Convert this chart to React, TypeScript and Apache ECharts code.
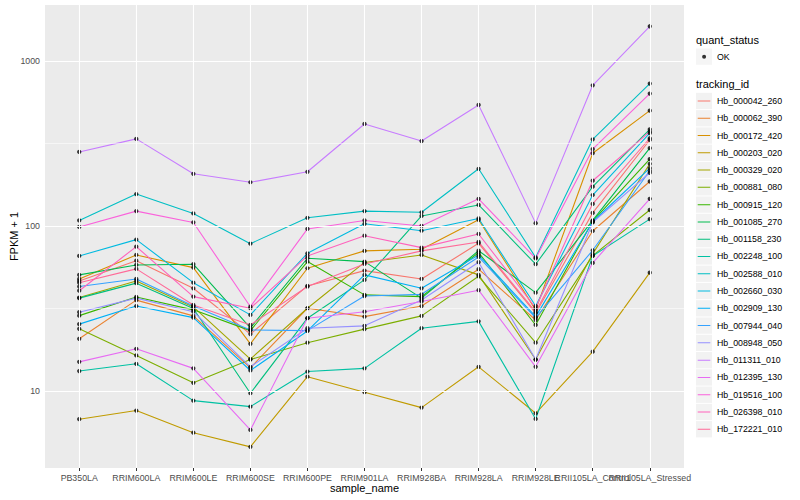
import React, { useEffect, useRef } from 'react';
import * as echarts from 'echarts';

const samples = [
  'PB350LA', 'RRIM600LA', 'RRIM600LE', 'RRIM600SE', 'RRIM600PE', 'RRIM901LA',
  'RRIM928BA', 'RRIM928LA', 'RRIM928LE', 'RRII105LA_Control', 'RRII105LA_Stressed',
];

const trackingIds = [
  'Hb_000042_260', 'Hb_000062_390', 'Hb_000172_420', 'Hb_000203_020', 'Hb_000329_020',
  'Hb_000881_080', 'Hb_000915_120', 'Hb_001085_270', 'Hb_001158_230', 'Hb_002248_100',
  'Hb_002588_010', 'Hb_002660_030', 'Hb_002909_130', 'Hb_007944_040', 'Hb_008948_050',
  'Hb_011311_010', 'Hb_012395_130', 'Hb_019516_100', 'Hb_026398_010', 'Hb_172221_010',
];

const hueColors = [
  '#F8766D', '#EA8331', '#D89000', '#C09B00', '#A3A500', '#7CAE00', '#39B600', '#00BB4E',
  '#00BF7D', '#00C1A3', '#00BFC4', '#00BAE0', '#00B0F6', '#35A2FF', '#9590FF', '#C77CFF',
  '#E76BF3', '#FA62DB', '#FF62BC', '#FF6A98',
];

// FPKM + 1 per sample, in the order of `samples`
const hb_000042_260 = [46.4, 61.6, 41.9, 22.1, 43.3, 53.6, 47.7, 78.5, 29.6, 120, 332];
const hb_000062_390 = [20.7, 35.5, 28.5, 13.8, 31.7, 28.2, 32.7, 54.7, 26.9, 93.2, 186];
const hb_000172_420 = [47.7, 66.7, 55.9, 19.3, 55.4, 70.6, 72.2, 109, 31.0, 276, 500];
const hb_000203_020 = [6.74, 7.6, 5.58, 4.58, 12.2, 9.82, 7.92, 14.0, 7.32, 17.3, 52.1];
const hb_000329_020 = [36.8, 46.4, 32.3, 15.6, 31.7, 60.1, 66.7, 50.5, 15.5, 67.7, 238];
const hb_000881_080 = [23.8, 16.4, 11.2, 15.5, 19.6, 23.7, 28.5, 49.5, 19.6, 66.1, 125];
const hb_000915_120 = [28.6, 37.1, 31.0, 23.2, 60.8, 38.2, 37.3, 68.9, 25.1, 107, 254];
const hb_001085_270 = [50.5, 58.0, 58.6, 24.1, 63.7, 60.8, 36.5, 70.8, 39.4, 108, 296];
const hb_001158_230 = [36.5, 45.0, 31.6, 9.68, 27.6, 47.1, 115, 134, 58.6, 173, 385];
const hb_002248_100 = [13.2, 14.6, 8.73, 8.03, 13.1, 13.7, 24.0, 26.4, 6.76, 65.8, 110];
const hb_002588_010 = [108, 156, 119, 78.1, 112, 123, 121, 222, 64.4, 335, 729];
const hb_002660_030 = [65.8, 82.6, 45.3, 28.9, 68.3, 103, 93.6, 111, 32.7, 154, 365];
const hb_002909_130 = [25.4, 32.7, 27.8, 13.3, 23.1, 50.5, 41.9, 66.7, 28.2, 106, 224];
const hb_007944_040 = [42.9, 47.7, 32.7, 23.4, 23.2, 37.6, 38.5, 64.9, 27.7, 71.2, 216];
const hb_008948_050 = [30.0, 36.5, 30.2, 14.0, 24.0, 24.8, 35.6, 60.3, 15.5, 105, 210];
const hb_011311_010 = [281, 337, 207, 184, 213, 415, 327, 541, 104, 712, 1623];
const hb_012395_130 = [15.0, 18.0, 13.7, 5.8, 27.6, 30.2, 34.8, 40.8, 14.0, 59.7, 146];
const hb_019516_100 = [98.6, 123, 105, 32.4, 95.9, 108, 100, 146, 63.5, 292, 634];
const hb_026398_010 = [40.5, 74.9, 37.3, 31.7, 65.8, 87.3, 73.9, 89.4, 31.8, 188, 373];
const hb_172221_010 = [45.2, 54.9, 33.2, 25.1, 42.9, 58.8, 70.6, 80.0, 30.1, 136, 340];

const seriesValues = [
  hb_000042_260, hb_000062_390, hb_000172_420, hb_000203_020, hb_000329_020,
  hb_000881_080, hb_000915_120, hb_001085_270, hb_001158_230, hb_002248_100,
  hb_002588_010, hb_002660_030, hb_002909_130, hb_007944_040, hb_008948_050,
  hb_011311_010, hb_012395_130, hb_019516_100, hb_026398_010, hb_172221_010,
];

const yMajorTicks = [10, 100, 1000];
const yMinorTicks = [31.62, 316.2];
const yRange = [3.41, 2184];

const FONT = 'Liberation Sans, Arial, Helvetica, sans-serif';

export default function App() {
  const ref = useRef<HTMLDivElement>(null);

  useEffect(() => {
    if (!ref.current) return;
    const chart = echarts.init(ref.current, null, { renderer: 'svg' });
    const lg = (v: number) => Math.log10(v);
    const xIdx = samples.map((_, i) => i);

    const lineSeries = seriesValues.map((vals, k) => ({
      type: 'line',
      name: trackingIds[k],
      data: vals.map((v, i) => [i, lg(v)]),
      showSymbol: false,
      symbol: 'none',
      silent: true,
      z: 2,
      lineStyle: { color: hueColors[k], width: 1.1 },
      itemStyle: { color: hueColors[k] },
      emphasis: { disabled: true },
    }));

    const points: number[][] = [];
    seriesValues.forEach((vals) => vals.forEach((v, i) => points.push([i, lg(v)])));

    const gridLines = {
      type: 'line',
      name: '__grid',
      data: [],
      silent: true,
      z: 1,
      markLine: {
        silent: true,
        symbol: ['none', 'none'],
        label: { show: false },
        animation: false,
        data: [
          ...yMinorTicks.map((v) => ({ yAxis: lg(v), lineStyle: { color: '#ffffff', width: 0.55, type: 'solid' } })),
          ...yMajorTicks.map((v) => ({ yAxis: lg(v), lineStyle: { color: '#ffffff', width: 1.1, type: 'solid' } })),
          ...xIdx.map((i) => ({ xAxis: i, lineStyle: { color: '#ffffff', width: 1.1, type: 'solid' } })),
        ],
      },
    };

    const keyH = 16.3;
    const keyW = 16;
    const linePath = `path://M0,0L0.01,0M${keyW},${keyH}L${keyW - 0.01},${keyH}M1.7,${keyH / 2 - 0.5}L14.3,${keyH / 2 - 0.5}L14.3,${keyH / 2 + 0.5}L1.7,${keyH / 2 + 0.5}Z`;
    const dotPath = `path://M0,0L0.01,0M${keyW},${keyH}L${keyW - 0.01},${keyH}M6.1,${keyH / 2}A2,2 0 1 1 10.1,${keyH / 2}A2,2 0 1 1 6.1,${keyH / 2}Z`;

    const legendText = { fontSize: 8.8, color: '#000000', fontFamily: FONT };
    const baseLegend = {
      left: 696,
      orient: 'vertical',
      itemWidth: keyW,
      itemHeight: keyH,
      itemGap: 0.98,
      padding: 0,
      selectedMode: false,
      textStyle: legendText,
    };

    const xLabelStyle = {
      formatter: (v: number) => samples[Math.round(v)] ?? '',
      color: '#4D4D4D', fontSize: 8.8, margin: 5, hideOverlap: false,
      showMinLabel: true, showMaxLabel: true, fontFamily: FONT,
    };
    const evenIdx = xIdx.filter((i) => i % 2 === 0);
    const oddIdx = xIdx.filter((i) => i % 2 === 1);

    const option = {
      animation: false,
      textStyle: { fontFamily: FONT },
      title: [
        { text: 'quant_status', left: 696, top: 34, padding: 0, textStyle: { fontSize: 11, fontWeight: 'normal', color: '#000', fontFamily: FONT } },
        { text: 'tracking_id', left: 696, top: 78, padding: 0, textStyle: { fontSize: 11, fontWeight: 'normal', color: '#000', fontFamily: FONT } },
      ],
      legend: [
        { ...baseLegend, top: 48.5, z: 3, formatter: () => '', data: [{ name: 'OK', icon: 'rect', itemStyle: { color: '#F2F2F2' } }] },
        { ...baseLegend, top: 48.5, z: 4, data: [{ name: 'OK', icon: dotPath, itemStyle: { color: '#000000' } }] },
        { ...baseLegend, top: 92.8, z: 3, formatter: () => '', data: trackingIds.map((n) => ({ name: n, icon: 'rect', itemStyle: { color: '#F2F2F2' } })) },
        { ...baseLegend, top: 92.8, z: 4, data: trackingIds.map((n, k) => ({ name: n, icon: linePath, itemStyle: { color: hueColors[k] } })) },
      ],
      grid: {
        left: 45, right: 116, top: 5, bottom: 32,
        show: true, backgroundColor: '#EBEBEB', borderWidth: 0,
        containLabel: false, outerBoundsMode: 'none',
      },
      xAxis: [
        {
          type: 'value',
          position: 'bottom',
          min: -0.6,
          max: 10.6,
          axisLine: { show: false },
          splitLine: { show: false },
          axisTick: { show: true, customValues: xIdx, length: 3, lineStyle: { color: '#333333', width: 1 } },
          axisLabel: { ...xLabelStyle, customValues: evenIdx },
          name: 'sample_name',
          nameLocation: 'middle',
          nameGap: 14,
          nameMoveOverlap: false,
          nameTextStyle: { fontSize: 11, color: '#000', fontFamily: FONT },
        },
        {
          type: 'value',
          position: 'bottom',
          offset: 0,
          min: -0.6,
          max: 10.6,
          axisLine: { show: false },
          splitLine: { show: false },
          axisTick: { show: false },
          axisLabel: { ...xLabelStyle, customValues: oddIdx },
        },
      ],
      yAxis: {
        type: 'value',
        min: lg(yRange[0]),
        max: lg(yRange[1]),
        axisLine: { show: false },
        splitLine: { show: false },
        axisTick: { show: true, customValues: yMajorTicks.map(lg), length: 3, lineStyle: { color: '#333333', width: 1 } },
        axisLabel: {
          customValues: yMajorTicks.map(lg),
          formatter: (v: number) => String(Math.round(Math.pow(10, v))),
          color: '#4D4D4D', fontSize: 8.8, margin: 5, fontFamily: FONT,
          showMinLabel: true, showMaxLabel: true,
        },
        name: 'FPKM + 1',
        nameLocation: 'middle',
        nameGap: 26,
        nameRotate: 90,
        nameMoveOverlap: false,
        nameTextStyle: { fontSize: 11, color: '#000', fontFamily: FONT },
      },
      series: [
        gridLines,
        ...lineSeries,
        {
          type: 'scatter',
          name: 'OK',
          data: points,
          symbolSize: 4.3,
          silent: true,
          z: 3,
          itemStyle: { color: '#000000' },
        },
      ],
    };

    chart.setOption(option as any);
    return () => chart.dispose();
  }, []);

  return <div ref={ref} style={{ position: 'absolute', left: 0, top: 0, width: 800, height: 500 }} />;
}
